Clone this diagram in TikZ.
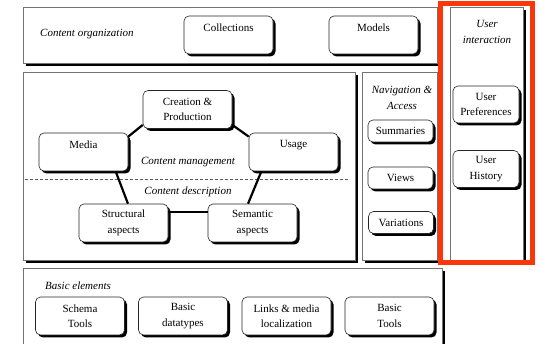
\documentclass[tikz,border=0pt]{standalone}
\usepackage{fontspec}
\setmainfont{Liberation Serif}
\usetikzlibrary{shadows}

\begin{document}
\begin{tikzpicture}[x=1pt, y=-1pt,
  panel/.style={draw=black!55, line width=0.7pt, fill=white, inner sep=0pt,
    anchor=north west,
    drop shadow={shadow xshift=3pt, shadow yshift=-3pt, fill=black, opacity=1}},
  item/.style={draw=black!85, line width=0.6pt, fill=white, rounded corners=5pt,
    inner sep=0pt, align=center, minimum width=89pt, minimum height=38pt,
    font=\fontsize{11}{15.5}\selectfont,
    drop shadow={shadow xshift=2.5pt, shadow yshift=-2.5pt, fill=black, opacity=1}},
  small/.style={item, minimum width=65pt, minimum height=22pt},
  user/.style={item, minimum width=66pt, minimum height=37pt},
  caption/.style={inner sep=0pt, align=center, text=black,
    font=\fontsize{11}{16}\selectfont\itshape},
  link/.style={line width=2.2pt, black},
  mark box/.style={draw={rgb,255:red,250;green,55;blue,10}, line width=5pt}
]
\path[use as bounding box] (0,0) rectangle (539,344);
\clip (0,0) rectangle (539,344);

% layers / panels
\node[panel, minimum width=414pt, minimum height=56pt]  (org)   at (23,7)   {};
\node[panel, minimum width=332pt, minimum height=188pt] (mgmt)  at (23,72)  {};
\node[panel, minimum width=75pt,  minimum height=188pt] (nav)   at (362,72) {};
\node[panel, minimum width=73pt,  minimum height=253pt] (inter) at (450,7)  {};
\node[panel, minimum width=419pt, minimum height=95pt]  (basic) at (23,268) {};

% content organization
\node[caption, anchor=west] (orgcap) at (40,34) {Content organization};
\node[item] (coll)   at (228.5,35) {Collections\\\mbox{}};
\node[item] (models) at (373.5,35) {Models\\\mbox{}};

% content management and description
\coordinate (dashL) at (25,179);
\coordinate (dashR) at (350,179);
\draw[black!65, line width=0.7pt, dash pattern=on 3pt off 2pt] (dashL) -- (dashR);
\node[caption] (mgmtcap) at (188,162) {Content management};
\node[caption] (desccap) at (188,192) {Content description};

\node[item] (create) at (187.5,109.5) {Creation \&\\Production};
\node[item] (media)  at (83.5,152)    {Media\\\mbox{}};
\node[item] (usage)  at (293.5,152)   {Usage\\\mbox{}};
\node[item] (struct) at (123.5,223)   {Structural\\aspects};
\node[item] (sem)    at (252.5,223)   {Semantic\\aspects};

\draw[link] (media.19)   -- (create.199);
\draw[link] (create.-19) -- (usage.161);
\draw[link] (media.-31)  -- (struct.77);
\draw[link] (usage.211)  -- (sem.103);
\draw[link] (struct.14)  -- (sem.166);

% navigation and access
\node[caption] (navcap) at (402,97.5) {Navigation \&\\Access};
\node[small] (summ) at (400.5,131)   {Summaries};
\node[small] (views) at (400.5,178)  {Views};
\node[small] (var)  at (401,222.5)   {Variations};

% user interaction
\node[caption] (intercap) at (487,32) {User\\interaction};
\node[user] (pref) at (486,104.5) {User\\Preferences};
\node[user] (hist) at (486,169)   {User\\History};

% basic elements
\node[caption, anchor=west] (basiccap) at (45,286) {Basic elements};
\node[item] (schema) at (80,316)    {Schema\\Tools};
\node[item] (dtypes) at (183,316)   {Basic\\datatypes};
\node[item] (links)  at (286.5,316) {Links \& media\\localization};
\node[item] (tools)  at (389.5,316) {Basic\\Tools};

% highlight around the user interaction layer
\draw[mark box] (440.5,3.5) rectangle (532.5,262.5);
\end{tikzpicture}
\end{document}
